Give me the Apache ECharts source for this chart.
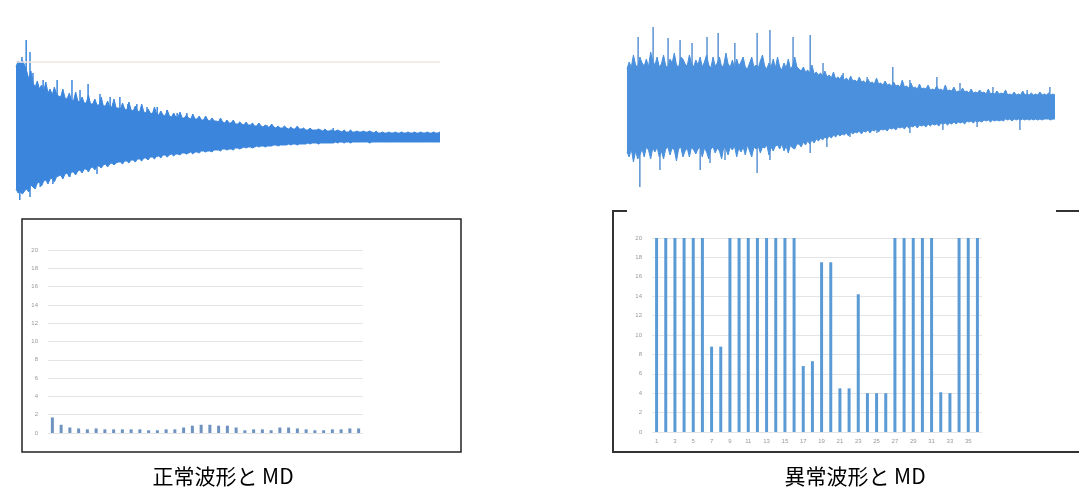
<!DOCTYPE html>
<html><head><meta charset="utf-8">
<script src="https://cdn.jsdelivr.net/npm/echarts@6/dist/echarts.min.js"></script>
<style>html,body{margin:0;padding:0;background:#fff}#c{width:1079px;height:493px}</style>
</head><body><div id="c"></div>
<script>
// Waveform envelopes (local peak / trough amplitudes)
const normalUpper = [
70,76,74,77,72,
66,58,66,54,50,56,48,52,46,55,44,48,42,50,43,
41,40,48,39,38,44,37,36,45,36,35,40,34,34,42,33,33,38,32,32,40,31,31,36,30,30,38,29,
29,28,34,28,27,35,27,26,31,26,25,33,25,24,28,24,23,30,23,22,26,22,21,27,21,20,24,20,20,25,19,19,22,19,18,23,18,18,21,17,17,21,17,16,19,16,16,
15,19,15,14,17,14,14,17,13,13,15,13,12,15,12,12,14,11,11,14,11,10,12,10,10,13,10,9,11,9,9,11,9,8,10,8,8,11,8,8,9,7,7,9,7,7,
7,8,7,6,8,6,6,7,6,6,7,6,5,7,5,5,7,5,5,6,5,5,6,5,5,6,5,4,6,4,4,5,4,4,5,4,4,5,4,4,5,4,4,5,4,4,5,4,4,5,4,4,5,4,4,5,4,4,5];
const normalLower = [
-52,-56,-55,-57,-54,
-52,-55,-48,-50,-52,-46,-45,-49,-44,-43,-47,-42,-41,-45,-40,
-39,-38,-42,-37,-36,-40,-35,-35,-38,-34,-33,-36,-32,-32,-35,-31,-30,-33,-29,-29,-31,-28,-27,-30,-27,-26,-28,-26,
-25,-25,-27,-24,-24,-26,-23,-23,-25,-22,-22,-24,-21,-21,-23,-20,-20,-22,-19,-19,-21,-18,-18,-20,-18,-17,-19,-17,-17,-18,-16,-16,-17,-16,-15,-17,-15,-15,-16,-14,-14,-15,-14,-14,-15,-13,-13,
-13,-14,-12,-12,-13,-12,-12,-13,-11,-11,-12,-11,-10,-11,-10,-10,-11,-10,-9,-10,-9,-9,-10,-9,-9,-9,-8,-8,-9,-8,-8,-8,-8,-7,-8,-7,-7,-8,-7,-7,-7,-7,-6,-7,-6,-6,
-6,-7,-6,-6,-6,-6,-6,-6,-6,-5,-6,-5,-5,-6,-5,-5,-6,-5,-5,-5,-5,-5,-5,-5,-5,-6,-5,-5,-5,-5,-5,-5,-5,-5,-5,-5,-5,-5,-5,-5,-5,-5,-5,-5,-5,-5,-5,-5,-5,-5,-5,-5,-5,-5,-5,-5,-5,-5,-5];
const abnormalUpper = [
38,45,40,52,42,40,50,44,41,48,40,55,46,42,50,40,43,52,41,40,
48,44,54,42,40,50,48,43,41,52,44,40,47,42,50,40,45,52,42,39,
50,41,44,50,40,42,54,43,40,47,39,48,41,45,50,40,38,44,50,40,
42,39,46,52,41,38,44,40,48,39,50,40,37,44,39,48,38,41,50,40,
38,36,40,35,37,34,42,33,35,32,34,31,36,30,32,29,35,28,30,28,
32,27,29,26,31,26,27,25,30,25,26,24,28,24,25,23,29,23,24,22,
26,22,23,21,25,21,22,20,27,20,21,19,24,19,20,18,23,18,19,18,
22,17,18,17,21,17,18,16,22,16,17,16,20,15,16,15,19,15,16,14,
18,14,15,14,17,14,15,13,18,13,14,13,16,13,14,13,17,12,13,12,
15,12,13,12,16,12,13,12,14,12,13,12,15,12,13,12,14,12,13,12];
const abnormalLower = [
-45,-50,-42,-55,-44,-52,-48,-42,-50,-40,-43,-52,-41,-45,-40,-50,-44,-52,-42,-40,
-48,-41,-43,-54,-42,-40,-50,-44,-41,-50,-40,-43,-47,-42,-40,-50,-41,-45,-52,-42,
-40,-46,-41,-44,-52,-40,-42,-48,-40,-43,-39,-50,-41,-45,-40,-48,-38,-44,-50,-40,
-42,-39,-46,-40,-41,-38,-48,-40,-44,-39,-38,-42,-37,-44,-39,-46,-38,-41,-42,-37,
-37,-40,-35,-38,-34,-37,-33,-36,-32,-34,-31,-33,-30,-32,-29,-31,-28,-30,-27,-29,
-27,-28,-26,-29,-25,-27,-25,-26,-24,-27,-24,-25,-23,-26,-23,-24,-22,-25,-22,-23,
-22,-24,-21,-22,-21,-23,-20,-21,-20,-22,-19,-21,-19,-20,-18,-21,-18,-19,-18,-20,
-17,-19,-17,-18,-17,-19,-16,-17,-16,-18,-16,-17,-15,-17,-15,-16,-15,-17,-14,-15,
-14,-16,-14,-15,-14,-15,-13,-14,-13,-15,-13,-14,-13,-14,-13,-14,-12,-13,-12,-14,
-12,-13,-12,-13,-12,-13,-12,-13,-12,-13,-12,-13,-12,-13,-12,-12,-12,-13,-12,-12];
// Isolated thin spikes: [position along trace (0..1), amplitude]
const normalSpikes = [
[0.014,80],[0.024,97],[0.033,85],[0.040,64],[0.064,57],[0.097,57],[0.132,57],[0.151,47],[0.170,53],
[0.198,43],[0.222,40],[0.245,40],[0.264,33],[0.285,33],[0.309,30],[0.333,30],[0.356,27],[0.380,24],
[0.403,24],[0.434,19],[0.465,17],[0.512,14],[0.559,10],[0.592,12],[0.639,7],[0.748,9],
[0.009,-63],[0.033,-60],[0.057,-50],[0.087,-47],[0.127,-40],[0.158,-33],[0.191,-37],[0.229,-27],
[0.276,-23],[0.333,-20],[0.403,-17],[0.465,-13],[0.512,-12]];
const abnormalSpikes = [
[0.026,70],[0.061,80],[0.096,69],[0.124,67],[0.152,64],[0.187,70],[0.213,74],[0.252,64],[0.304,74],
[0.334,77],[0.388,70],[0.428,72],[0.458,44],[0.505,34],[0.561,30],[0.621,40],[0.661,27],[0.724,30],
[0.778,24],[0.855,20],[0.935,17],[0.988,20],
[0.030,-80],[0.077,-63],[0.171,-63],[0.194,-56],[0.229,-53],[0.304,-66],[0.334,-53],[0.428,-46],
[0.467,-40],[0.521,-30],[0.584,-26],[0.661,-26],[0.738,-23],[0.818,-20],[0.918,-23]];
// MD bar values
const mdCategories = ['1','2','3','4','5','6','7','8','9','10','11','12','13','14','15','16','17','18','19','20','21','22','23','24','25','26','27','28','29','30','31','32','33','34','35','36'];
const mdNormal = [1.7,0.9,0.6,0.5,0.4,0.5,0.4,0.4,0.4,0.4,0.4,0.3,0.3,0.4,0.4,0.6,0.8,0.9,0.9,0.8,0.8,0.6,0.3,0.4,0.4,0.3,0.6,0.6,0.5,0.4,0.3,0.3,0.4,0.4,0.5,0.5];
const mdAbnormal = [20,20,20,20,20,20,8.8,8.8,20,20,20,20,20,20,20,20,6.8,7.3,17.5,17.5,4.5,4.5,14.2,4,4,4,20,20,20,20,20,4.1,4.0,20,20,20];
const captions = ['正常波形と MD','異常波形と MD'];

const chart = echarts.init(document.getElementById('c'));
const tickLbl = {fontSize:6, color:'#999', fontFamily:'Liberation Sans'};
function barY(idx){
  return {gridIndex:idx, type:'value', min:0, max:20, interval:2,
    axisLine:{show:false}, axisTick:{show:false},
    axisLabel:Object.assign({margin:10}, tickLbl),
    splitLine:{lineStyle:{color:'#e4e4e4', width:1}}};
}
const pts = arr => arr.map((v,i)=>[i/(arr.length-1), v]);
function env(arr, xi, color){
  return {type:'line', xAxisIndex:xi, yAxisIndex:xi, symbol:'none', data:pts(arr),
    lineStyle:{color:color, width:1}, areaStyle:{color:color, opacity:1, origin:0}};
}
function spikes(arr, xi, color){
  return {type:'bar', xAxisIndex:xi, yAxisIndex:xi, data:arr, barWidth:1.5,
    itemStyle:{color:color}};
}
const s0 = env(normalUpper, 0, '#3b86dc');
s0.markLine = {silent:true, symbol:'none', label:{show:false},
  lineStyle:{color:'#f0e6e2', type:'solid', width:1.5}, data:[{yAxis:75}]};
chart.setOption({
  animation:false,
  grid:[
    {left:16, top:27, width:424, height:190},
    {left:627, top:17, width:428, height:180},
    {left:48, top:250, width:315, height:183},
    {left:652, top:238, width:330, height:194}
  ],
  xAxis:[
    {gridIndex:0, type:'value', min:0, max:1, show:false},
    {gridIndex:1, type:'value', min:0, max:1, show:false},
    {gridIndex:2, type:'category', data:mdCategories, axisLine:{show:false}, axisTick:{show:false}, axisLabel:{show:false}},
    {gridIndex:3, type:'category', data:mdCategories, axisLine:{show:false}, axisTick:{show:false},
      axisLabel:Object.assign({interval:1, margin:6}, tickLbl)}
  ],
  yAxis:[
    {gridIndex:0, type:'value', min:-80, max:110, show:false},
    {gridIndex:1, type:'value', min:-90, max:90, show:false},
    barY(2), barY(3)
  ],
  series:[
    s0,
    env(normalLower, 0, '#3b86dc'),
    spikes(normalSpikes, 0, '#3b86dc'),
    env(abnormalUpper, 1, '#4a90dc'),
    env(abnormalLower, 1, '#4a90dc'),
    spikes(abnormalSpikes, 1, '#5b93d2'),
    {type:'bar', xAxisIndex:2, yAxisIndex:2, data:mdNormal, barWidth:3, itemStyle:{color:'#6e93c0'}},
    {type:'bar', xAxisIndex:3, yAxisIndex:3, data:mdAbnormal, barWidth:3, itemStyle:{color:'#5b9bd5'}}
  ],
  graphic:[
    {type:'rect', shape:{x:22, y:219, width:439, height:233}, style:{fill:'none', stroke:'#222', lineWidth:1.5}},
    {type:'polyline', shape:{points:[[627,211],[613,211],[613,452],[1079,452]]}, style:{fill:'none', stroke:'#333', lineWidth:2}},
    {type:'line', shape:{x1:1056, y1:211, x2:1079, y2:211}, style:{stroke:'#333', lineWidth:2}},
    {type:'text', x:223, y:476, style:{text:captions[0], fill:'#000', font:'21px "Noto Sans CJK JP"', textAlign:'center', textVerticalAlign:'middle'}},
    {type:'text', x:855, y:476, style:{text:captions[1], fill:'#000', font:'21px "Noto Sans CJK JP"', textAlign:'center', textVerticalAlign:'middle'}}
  ]
});
</script></body></html>
